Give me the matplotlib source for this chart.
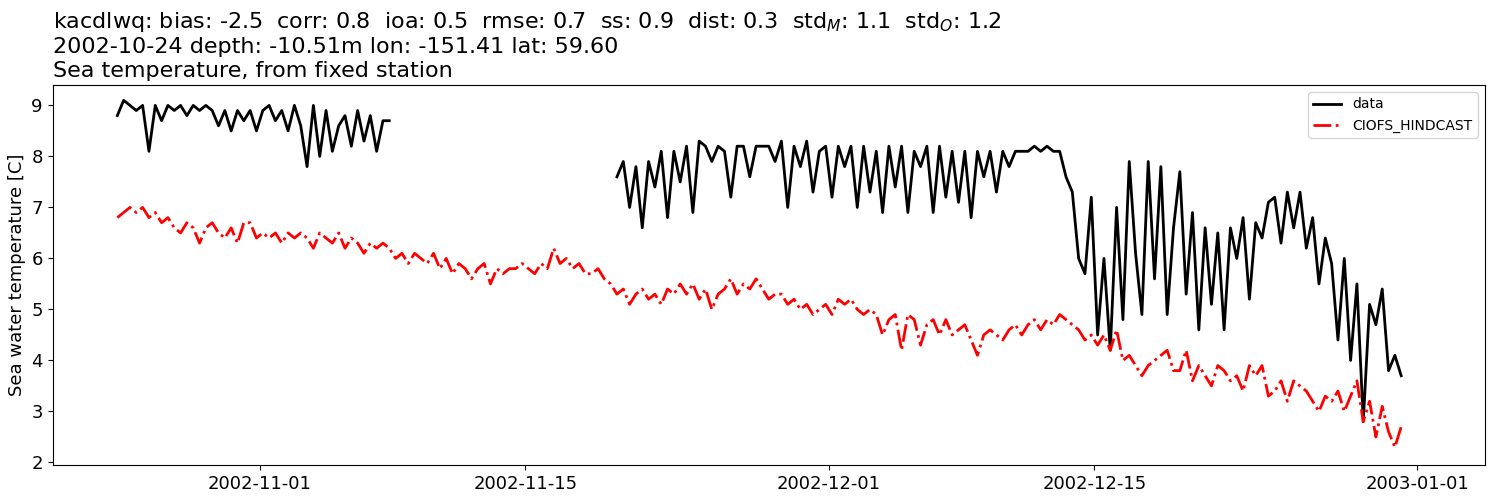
import numpy as np
import pandas as pd
import matplotlib.pyplot as plt

nan = np.nan
# three samples per day, 2002-10-24 .. 2002-12-30
model = [6.8,6.9,7.0, 6.9,7.0,6.8, 6.9,6.7,6.8, 6.6,6.5,6.7, 6.6,6.3,6.6, 6.7,6.5,6.4,
         6.6,6.3,6.7, 6.7,6.4,6.5,
         6.4,6.5,6.3, 6.5,6.4,6.5, 6.4,6.2,6.5, 6.4,6.3,6.5, 6.2,6.4,6.3, 6.1,6.3,6.2,
         6.3,6.2,6.0, 6.1,5.9,6.1, 6.0,5.9,6.1, 5.8,6.0,5.7, 5.9,5.8,5.6, 5.8,5.9,5.5,
         5.8,5.7,5.8, 5.8,5.9,5.8, 5.7,5.9,5.8, 6.2,5.9,6.0, 5.8,5.9,5.7, 5.7,5.8,5.6,
         5.5,5.3,5.4, 5.1,5.3,5.4, 5.2,5.3,5.1, 5.4,5.3,5.5, 5.3,5.5,5.2, 5.4,5.0,5.3,
         5.4,5.6,5.3, 5.5,5.4,5.6, 5.4,5.2,5.3, 5.3,5.1,5.2, 5.0,5.1,4.9, 5.0,5.1,4.9,
         5.2,5.1,5.2, 5.0,4.9,5.0, 4.9,4.5,4.8, 4.9,4.2,4.9, 4.8,4.3,4.7, 4.8,4.5,4.8,
         4.5,4.6,4.7, 4.4,4.1,4.5, 4.6,4.5,4.4, 4.6,4.7,4.5, 4.7,4.8,4.6, 4.8,4.7,4.9,
         4.8,4.7,4.6, 4.4,4.5,4.3, 4.5,4.2,4.6, 4.0,4.1,3.9, 3.7,3.9,4.0, 4.1,4.2,3.8,
         3.8,4.2,3.6, 3.9,3.7,3.5, 3.9,3.8,3.6, 3.7,3.4,3.9, 3.7,3.9,3.3, 3.4,3.6,3.2,
         3.6,3.5,3.4, 3.2,3.0,3.3, 3.2,3.4,3.0, 3.3,3.6,2.8, 3.2,2.5,3.1, 2.6,2.3,2.7]
data = [8.8,9.1,9.0, 8.9,9.0,8.1, 9.0,8.7,9.0, 8.9,9.0,8.8, 9.0,8.9,9.0, 8.9,8.6,8.9,
        8.5,8.9,8.7, 8.9,8.5,8.9,
        9.0,8.7,8.9, 8.5,9.0,8.6, 7.8,9.0,8.0, 8.9,8.1,8.6, 8.8,8.2,8.9, 8.3,8.8,8.1,
        8.7,8.7,nan] + [nan]*33 + [
        nan,7.6,7.9, 7.0,7.8,6.6, 7.9,7.4,8.1, 6.8,8.1,7.5, 8.2,6.9,8.3, 8.2,7.9,8.2,
        8.1,7.2,8.2, 8.2,7.6,8.2, 8.2,8.2,7.9, 8.3,7.0,8.2, 7.8,8.3,7.3, 8.1,8.2,7.2,
        8.2,7.8,8.2, 7.0,8.2,7.3, 8.1,6.9,8.2, 7.4,8.2,6.9, 8.1,7.8,8.2, 6.9,8.2,7.2,
        8.1,7.1,8.1, 6.8,8.1,7.6, 8.1,7.3,8.1, 7.8,8.1,8.1, 8.1,8.2,8.1, 8.2,8.1,8.1,
        7.6,7.3,6.0, 5.7,7.2,4.5, 6.0,4.2,7.0, 4.8,7.9,6.1, 4.9,7.9,5.6, 7.8,4.9,6.6,
        7.7,5.3,6.9, 4.6,6.6,5.1, 6.5,4.6,6.6, 6.0,6.8,5.2, 6.7,6.4,7.1, 7.2,6.3,7.3,
        6.6,7.3,6.2, 6.8,5.5,6.4, 5.9,4.4,6.0, 4.0,5.5,2.8, 5.1,4.7,5.4, 3.8,4.1,3.7]
times = pd.date_range('2002-10-24 12:00', periods=len(model), freq='8h')
ticks = ['2002-11-01', '2002-11-15', '2002-12-01', '2002-12-15', '2003-01-01']

f, ax = plt.subplots(figsize=(15, 5))
ax.plot(times, data, color='k', lw=2, label='data')
ax.plot(times, model, color='r', lw=2, ls='-.', label='CIOFS_HINDCAST')
ax.set_ylabel('Sea water temperature [C]', fontsize=13)
ax.tick_params(labelsize=13)
ax.set_xticks(pd.to_datetime(ticks))
ax.set_xticklabels(ticks)
ax.set_xlim(pd.Timestamp('2002-10-21 02:00'), pd.Timestamp('2003-01-04 14:00'))
ax.set_ylim(1.95, 9.4)
ax.legend(loc='upper right')
ax.set_title('kacdlwq: bias: -2.5  corr: 0.8  ioa: 0.5  rmse: 0.7  ss: 0.9  dist: 0.3  std$_M$: 1.1  std$_O$: 1.2\n'
             '2002-10-24 depth: -10.51m lon: -151.41 lat: 59.60\nSea temperature, from fixed station',
             loc='left', fontsize=16)
plt.subplots_adjust(left=0.035, right=0.99, top=0.83, bottom=0.07)
plt.savefig('out.png', dpi=100)
